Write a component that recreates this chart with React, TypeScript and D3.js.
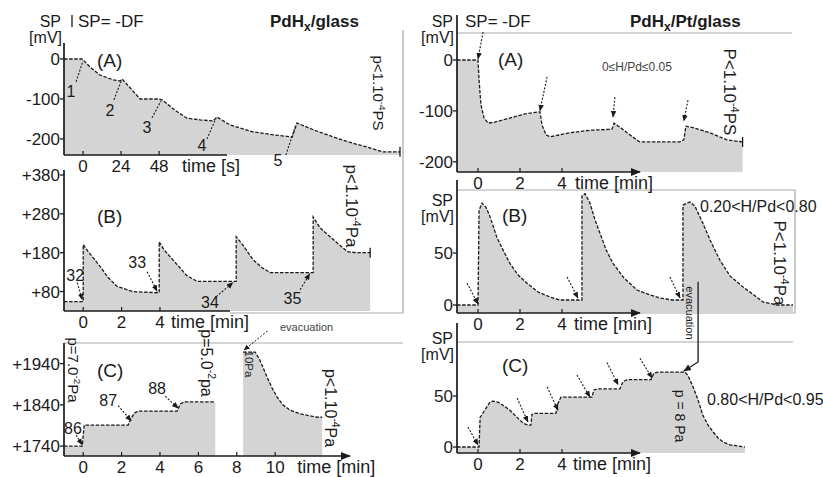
import React from 'react';
import * as d3 from 'd3';

const FONT = 'Liberation Sans, Arial, Helvetica, sans-serif';
const FILL = '#d4d4d4';
const INK = '#1b1b1b';
const RULE = '#a9a9a9';

// ---- PdHx/glass (A): SP [mV] against time [s]
const gATime = [-12, -0.6, 0, 4.4, 10.7, 19, 23.3, 24.6, 29.7, 36, 47.3, 50, 58, 65.6, 73.8, 82, 84.5, 92.7, 107, 121, 132, 135, 146, 158, 168, 179, 189, 200];
const gASP = [0, 0, -2, -20, -40, -52, -55, -50, -72, -100, -100, -102, -128, -148, -152, -155, -145, -165, -182, -190, -195, -160, -178, -195, -208, -220, -232, -232];
const gAYTicks = [0, -100, -200];
const gAXTicks = [0, 24, 48];
// [label, label t, label v, from t, from v, to t, to v]
const gANotes: [string, number, number, number, number, number, number][] = [
  ['1', -7.6, -80, -4.4, -57, 0, -5],
  ['2', 17, -127, 19.5, -102, 24.3, -53],
  ['3', 40.4, -170, 43.5, -147, 49.2, -105],
  ['4', 75, -215, 78.2, -200, 83.9, -148],
  ['5', 123, -252, 128, -240, 134.4, -163],
];

// ---- PdHx/glass (B): time [min]
const gBTime = [-1, -0.05, 0, 0, 0.26, 0.89, 1.3, 1.77, 2.6, 3.85, 3.96, 3.96, 4.2, 4.9, 5.4, 5.94, 7.8, 7.97, 7.97, 8.3, 8.85, 9.3, 9.74, 11.9, 11.98, 11.98, 12.34, 12.86, 13.4, 13.75, 14.2, 14.95];
const gBSP = [54, 54, 54, 201, 183, 144, 116, 93, 80, 77, 77, 208, 188, 149, 121, 106, 106, 106, 221, 201, 162, 142, 129, 129, 129, 272, 244, 221, 198, 183, 180, 180];
const gBYTicks = [80, 180, 280, 380];
const gBXTicks = [0, 2, 4];
const gBNotes: [string, number, number, number, number, number, number][] = [
  ['32', -0.42, 121, -0.31, 103, -0.05, 59],
  ['33', 2.81, 155, 3.33, 131, 3.85, 81],
  ['34', 6.6, 52, 6.93, 67, 7.8, 103],
  ['35', 10.9, 62, 11.3, 85, 11.8, 126],
];

// ---- PdHx/glass (C): two recordings separated by the evacuation
const gCTime1 = [-1, -0.05, 0.05, 2.34, 2.45, 2.66, 2.86, 4.9, 5.05, 5.26, 6.88];
const gCSP1 = [1740, 1740, 1791, 1791, 1803, 1820, 1825, 1825, 1842, 1847, 1847];
const gCTime2 = [8.33, 8.96, 9.2, 9.58, 9.84, 10.1, 10.4, 10.78, 11.3, 12.2, 12.45];
const gCSP2 = [1968, 1968, 1949, 1907, 1881, 1859, 1840, 1827, 1818, 1810, 1810];
const gCYTicks = [1740, 1840, 1940];
const gCXTicks = [0, 2, 4, 6, 8, 10];
const gCNotes: [string, number, number, number, number, number, number][] = [
  ['86', -0.53, 1784, -0.37, 1767, -0.06, 1743],
  ['87', 1.3, 1852, 1.82, 1838, 2.5, 1801],
  ['88', 3.85, 1881, 4.27, 1861, 4.95, 1832],
];
const gCEvac = [10.25, 2029, 9.6, 2019, 8.38, 1973];

// ---- PdHx/Pt/glass (A)
const pATime = [-1, 0, 0.05, 0.14, 0.29, 0.48, 0.81, 1.52, 2.24, 2.86, 2.95, 3.05, 3.24, 3.43, 4.38, 5.33, 6.38, 6.48, 6.76, 7.1, 7.7, 9.6, 9.8, 9.9, 10.33, 11.05, 11.86, 12.6];
const pASP = [0, 0, -39, -88, -114, -124, -122, -114, -106, -102, -102, -128, -147, -151, -143, -138, -136, -124, -132, -143, -161, -161, -157, -130, -134, -143, -157, -161];
const pAYTicks = [0, -100, -200];
const pAArrows = [[0.24, 55, 0, 2], [3.29, -33, 2.95, -100], [6.52, -73, 6.43, -112], [10, -79, 9.8, -120]];

// ---- PdHx/Pt/glass (B)
const pBTime = [-1, 0, 0.05, 0.19, 0.38, 0.57, 0.9, 1.19, 1.52, 1.9, 2.33, 2.86, 3.43, 3.9, 4.86, 4.95, 4.95, 5.1, 5.33, 5.57, 5.81, 6.1, 6.43, 6.95, 7.57, 8.2, 8.67, 9.24, 9.62, 9.76, 9.76, 9.95, 10.1, 10.33, 10.7, 11.05, 11.52, 12, 12.62, 13.2, 13.57, 14.24, 15];
const pBSP = [0, 0, 91, 98, 94, 85, 65, 53, 40, 29, 21, 12.5, 7.7, 4.8, 4.8, 4.8, 105, 107, 98, 82, 69, 53, 40, 26, 14.4, 9.6, 6.7, 4.8, 4.8, 4.8, 96, 98, 99, 95, 79, 62.5, 43, 28, 17.3, 8.7, 2.9, 0, 0];
const pBYTicks = [0, 50];
const pBArrows = [[-0.52, 21, 0, 1], [4.24, 27, 4.76, 6.7], [9.14, 27, 9.62, 6.7]];

// ---- PdHx/Pt/glass (C)
const pCTime = [-1, 0, 0.05, 0.1, 0.57, 0.71, 0.95, 1.19, 1.52, 1.86, 2.14, 2.38, 2.52, 2.57, 2.71, 3.71, 3.81, 3.95, 5.43, 5.52, 5.67, 6.76, 6.9, 7.1, 8.24, 8.38, 8.57, 9.86, 10, 10.24, 10.48, 10.71, 10.95, 11.2, 11.43, 11.67, 12, 12.71];
const pCSP = [0, 0, 0, 29, 44, 45, 44, 41, 36, 29, 23.5, 21.5, 21.5, 32, 33, 33, 43, 49, 49, 56, 57, 57, 64, 66, 66, 72.5, 73.5, 73.5, 70, 59, 46, 31, 21.6, 14.7, 8.8, 4.9, 2, 0];
const pCYTicks = [0, 50];
const pCArrows = [[-0.48, 19.6, 0, 2], [1.86, 48, 2.38, 24.5], [3.29, 59, 3.81, 36], [4.71, 70.6, 5.33, 49], [6.14, 83, 6.67, 61], [7.71, 87, 8.29, 67.6]];
const pCEvac: [number, number][] = [[10.48, 162], [10.48, 83.4], [9.8, 74.5]];

const pXTicks = [0, 2, 4];

type Sc = d3.ScaleLinear<number, number>;
type Pt = [number, number];

function Trace({ x, y, ts, vs, end }: { x: Sc; y: Sc; ts: number[]; vs: number[]; end?: boolean }) {
  const pts: Pt[] = ts.map((t, i) => [t, vs[i]]);
  const base = y.range()[0];
  const area = d3.area<Pt>().x(d => x(d[0])).y0(base).y1(d => y(d[1]));
  const line = d3.line<Pt>().x(d => x(d[0])).y(d => y(d[1]));
  const last = pts[pts.length - 1];
  return (
    <g>
      <path d={area(pts) ?? ''} fill={FILL} />
      <path d={line(pts) ?? ''} fill="none" stroke={INK} strokeWidth={1.3} strokeDasharray="3.5 1.6" />
      {end && (
        <line x1={x(last[0])} x2={x(last[0])} y1={y(last[1]) - 5} y2={y(last[1]) + 5} stroke={INK} strokeWidth={1.3} />
      )}
    </g>
  );
}

function YAxis({ x, y, ticks, top, plus }: { x: Sc; y: Sc; ticks: number[]; top: number; plus?: boolean }) {
  const x0 = x.range()[0];
  return (
    <g>
      <line x1={x0} x2={x0} y1={top} y2={y.range()[0]} stroke={INK} strokeWidth={1.7} />
      {ticks.map(v => (
        <g key={v} transform={`translate(${x0},${y(v)})`}>
          <line x1={-4} x2={0} stroke={INK} strokeWidth={1.3} />
          <text x={-4} dy="0.36em" textAnchor="end" fontSize={17}>{(plus ? '+' : '') + v}</text>
        </g>
      ))}
    </g>
  );
}

function XAxis({ x, y, ticks, end, label, gap, arrow }: { x: Sc; y: Sc; ticks: number[]; end: number; label: string; gap: number; arrow?: boolean }) {
  const x0 = x.range()[0];
  const yb = y.range()[0];
  const last = x(ticks[ticks.length - 1]);
  return (
    <g>
      <line x1={x0} x2={end} y1={yb} y2={yb} stroke={INK} strokeWidth={1.7}
        markerEnd={arrow ? 'url(#head)' : undefined} />
      {ticks.map(t => (
        <g key={t} transform={`translate(${x(t)},${yb})`}>
          <line y1={-4} y2={0} stroke={INK} strokeWidth={1.2} />
          <text y={17} textAnchor="middle" fontSize={17}>{t}</text>
        </g>
      ))}
      <text x={last + gap} y={yb + 17} fontSize={18}>{label}</text>
    </g>
  );
}

function Notes({ x, y, notes, head }: { x: Sc; y: Sc; notes: [string, number, number, number, number, number, number][]; head?: boolean }) {
  return (
    <g>
      {notes.map(([lab, lt, lv, t0, v0, t1, v1]) => (
        <g key={lab}>
          <line x1={x(t0)} y1={y(v0)} x2={x(t1)} y2={y(v1)} stroke={INK} strokeWidth={1.1}
            strokeDasharray="2 1.6" markerEnd={head ? 'url(#head)' : undefined} />
          <text x={x(lt)} y={y(lv)} dy="0.36em" textAnchor="middle" fontSize={16}>{lab}</text>
        </g>
      ))}
    </g>
  );
}

function Arrows({ x, y, arrows }: { x: Sc; y: Sc; arrows: number[][] }) {
  return (
    <g>
      {arrows.map(([t0, v0, t1, v1], i) => (
        <line key={i} x1={x(t0)} y1={y(v0)} x2={x(t1)} y2={y(v1)} stroke={INK} strokeWidth={1.1}
          strokeDasharray="2 1.6" markerEnd="url(#head)" />
      ))}
    </g>
  );
}

function VText({ cx, cy, size, main, sup, tail, fill = INK }: { cx: number; cy: number; size: number; main: string; sup?: string; tail?: string; fill?: string }) {
  const s = size * 0.4;
  return (
    <text transform={`translate(${cx},${cy}) rotate(90)`} textAnchor="middle" dy="0.35em" fontSize={size} fill={fill}>
      {main}
      {sup && <tspan dy={-s} fontSize={size * 0.65}>{sup}</tspan>}
      {tail && <tspan dy={s}>{tail}</tspan>}
    </text>
  );
}

function UnitLabel({ x, y }: { x: number; y: number }) {
  return (
    <g fontSize={16} textAnchor="end">
      <text x={x} y={y}>SP</text>
      <text x={x + 1} y={y + 16}>[mV]</text>
    </g>
  );
}

export default function App() {
  const gAx = d3.scaleLinear().domain([-12, 200]).range([64, 400]);
  const gAy = d3.scaleLinear().domain([-240, 40]).range([155, 43]);
  const gBx = d3.scaleLinear().domain([-1, 16.66]).range([64, 403]);
  const gBy = d3.scaleLinear().domain([30, 380]).range([311, 175]);
  const gCx = d3.scaleLinear().domain([-1, 16.66]).range([64, 403]);
  const gCy = d3.scaleLinear().domain([1716, 1990]).range([456, 343]);
  const pAx = d3.scaleLinear().domain([-1, 15]).range([457, 793]);
  const pAy = d3.scaleLinear().domain([-220, 53]).range([172, 33]);
  const pBx = pAx.copy();
  const pBy = d3.scaleLinear().domain([-7.7, 110.6]).range([313, 190]);
  const pCx = pAx.copy();
  const pCy = d3.scaleLinear().domain([-5.9, 103]).range([453, 342]);
  const evacLine = d3.line<Pt>().x(d => pCx(d[0])).y(d => pCy(d[1]));

  return (
    <svg width={823} height={477} style={{ position: 'absolute', left: 0, top: 0, background: '#fff' }}
      fontFamily={FONT} fill={INK}>
      <defs>
        <marker id="head" viewBox="0 0 6 6" refX="5.5" refY="3" markerWidth="6" markerHeight="6" orient="auto">
          <path d="M0,0.5 L6,3 L0,5.5 z" fill={INK} />
        </marker>
      </defs>

      {/* frame rules */}
      <g stroke={RULE} strokeWidth={1.2}>
        <line x1={403} x2={403} y1={30} y2={313} />
        <line x1={230} x2={403} y1={313} y2={313} />
        <line x1={64} x2={403} y1={343} y2={343} />
        <line x1={457} x2={792} y1={33} y2={33} />
        <line x1={457} x2={795} y1={190} y2={190} />
        <line x1={795} x2={795} y1={190} y2={313} />
        <line x1={640} x2={795} y1={313} y2={313} />
        <line x1={457} x2={793} y1={342} y2={342} />
      </g>

      {/* ---------- left column: PdHx/glass ---------- */}
      <UnitLabel x={61} y={27} />
      <line x1={72} x2={72} y1={15} y2={27} stroke={INK} strokeWidth={1.3} />
      <text x={78} y={27} fontSize={17}>SP= -DF</text>
      <text x={270} y={27} fontSize={17} fontWeight="bold">PdH<tspan dy={4} fontSize={12}>x</tspan><tspan dy={-4}>/glass</tspan></text>

      <Trace x={gAx} y={gAy} ts={gATime} vs={gASP} end />
      <YAxis x={gAx} y={gAy} ticks={gAYTicks} top={43} />
      <XAxis x={gAx} y={gAy} ticks={gAXTicks} end={227} label="time [s]" gap={23} />
      <Notes x={gAx} y={gAy} notes={gANotes} />
      <text x={97} y={67} fontSize={19}>(A)</text>
      <VText cx={378} cy={93} size={15} main="p<1.10" sup="-4" tail="PS" />

      <Trace x={gBx} y={gBy} ts={gBTime} vs={gBSP} end />
      <YAxis x={gBx} y={gBy} ticks={gBYTicks} top={170} plus />
      <XAxis x={gBx} y={gBy} ticks={gBXTicks} end={230} label="time [min]" gap={11} />
      <Notes x={gBx} y={gBy} notes={gBNotes} head />
      <text x={97} y={223} fontSize={19}>(B)</text>
      <VText cx={352} cy={206} size={17} main="p<1.10" sup="-4" tail="Pa" />

      <Trace x={gCx} y={gCy} ts={gCTime1} vs={gCSP1} />
      <Trace x={gCx} y={gCy} ts={gCTime2} vs={gCSP2} />
      <YAxis x={gCx} y={gCy} ticks={gCYTicks} top={343} plus />
      <XAxis x={gCx} y={gCy} ticks={gCXTicks} end={350} label="time [min]" gap={22} arrow />
      <Notes x={gCx} y={gCy} notes={gCNotes} head />
      <line x1={gCx(gCEvac[2])} y1={gCy(gCEvac[3])} x2={gCx(gCEvac[4])} y2={gCy(gCEvac[5])}
        stroke={INK} strokeWidth={1} strokeDasharray="2 1.6" markerEnd="url(#head)" />
      <text x={gCx(gCEvac[0])} y={gCy(gCEvac[1])} dy="0.35em" fontSize={11} fill="#444">evacuation</text>
      <text x={97} y={377} fontSize={19}>(C)</text>
      <VText cx={73} cy={370} size={15} main="p=7.0" sup="-2" tail="Pa" />
      <VText cx={207} cy={363} size={16} main="p=5.0" sup="-2" tail="pa" />
      <VText cx={249} cy={364} size={11.5} main="10Pa" />
      <VText cx={331} cy={408} size={16} main="p<1.10" sup="-4" tail="Pa" />

      {/* ---------- right column: PdHx/Pt/glass ---------- */}
      <UnitLabel x={453} y={27} />
      <text x={465} y={27} fontSize={17}>SP= -DF</text>
      <text x={630} y={27} fontSize={17} fontWeight="bold">PdH<tspan dy={4} fontSize={12}>x</tspan><tspan dy={-4}>/Pt/glass</tspan></text>

      <Trace x={pAx} y={pAy} ts={pATime} vs={pASP} end />
      <YAxis x={pAx} y={pAy} ticks={pAYTicks} top={15} />
      <XAxis x={pAx} y={pAy} ticks={pXTicks} end={640} label="time [min]" gap={13} arrow />
      <Arrows x={pAx} y={pAy} arrows={pAArrows} />
      <text x={498} y={66} fontSize={19}>(A)</text>
      <text x={637} y={67} dy="0.35em" textAnchor="middle" fontSize={12} fill="#444">0≤H/Pd≤0.05</text>
      <VText cx={730} cy={92} size={17} main="P<1.10" sup="-4" tail="PS" />

      <UnitLabel x={453} y={206} />
      <Trace x={pBx} y={pBy} ts={pBTime} vs={pBSP} />
      <YAxis x={pBx} y={pBy} ticks={pBYTicks} top={180} />
      <XAxis x={pBx} y={pBy} ticks={pXTicks} end={640} label="time [min]" gap={12} arrow />
      <Arrows x={pBx} y={pBy} arrows={pBArrows} />
      <text x={502} y={222} fontSize={19}>(B)</text>
      <text x={700} y={212} fontSize={16}>0.20&lt;H/Pd&lt;0.80</text>
      <VText cx={780} cy={263} size={17} main="P<1.10" sup="-4" tail="Pa" />

      <UnitLabel x={453} y={344} />
      <Trace x={pCx} y={pCy} ts={pCTime} vs={pCSP} />
      <YAxis x={pCx} y={pCy} ticks={pCYTicks} top={323} />
      <XAxis x={pCx} y={pCy} ticks={pXTicks} end={640} label="time [min]" gap={11} arrow />
      <Arrows x={pCx} y={pCy} arrows={pCArrows} />
      <path d={evacLine(pCEvac) ?? ''} fill="none" stroke={INK} strokeWidth={1.3} markerEnd="url(#head)" />
      <VText cx={pCx(10.1)} cy={pCy(131.5)} size={11} main="evacuation" />
      <text x={502} y={372} fontSize={19}>(C)</text>
      <text x={707} y={405} fontSize={16}>0.80&lt;H/Pd&lt;0.95</text>
      <VText cx={680} cy={416} size={14} main="p = 8 Pa" />
    </svg>
  );
}
